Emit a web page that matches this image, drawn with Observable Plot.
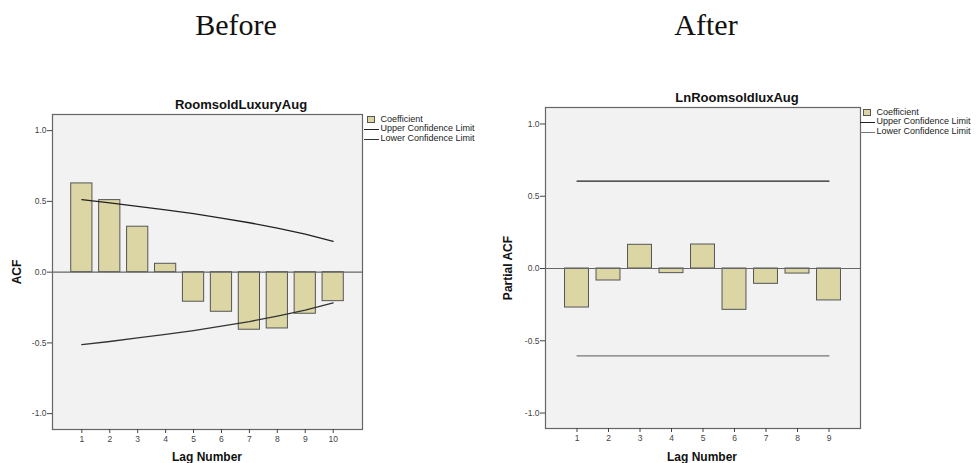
<!DOCTYPE html>
<html>
<head>
<meta charset="utf-8">
<script src="https://cdn.jsdelivr.net/npm/d3@7"></script>
<script src="https://cdn.jsdelivr.net/npm/@observablehq/plot@0.6"></script>
<style>
  html, body { margin: 0; padding: 0; background: #fff; }
  #page { position: relative; width: 978px; height: 463px; overflow: hidden; font-family: "Liberation Sans", Arial, sans-serif; color: #111; }
  .abs { position: absolute; white-space: nowrap; line-height: 1; }
  .head { font-family: "Liberation Serif", "Times New Roman", serif; font-size: 30px; transform: translateX(-50%); }
  .title { font-weight: bold; font-size: 13px; transform: translateX(-50%); }
  .xlab { font-weight: bold; font-size: 12px; transform: translateX(-50%); }
  .ylab { font-weight: bold; font-size: 12px; transform: translate(-50%, -50%) rotate(-90deg); }
  .leg { font-size: 9px; color: #222; }
  .sw { position: absolute; background: #dbd6a3; border: 1px solid #555; box-sizing: border-box; }
  .ln { position: absolute; height: 0; border-top: 1.3px solid #222; }
  .chart { position: absolute; }
</style>
</head>
<body>
<div id="page"></div>
<script>
// ---- Data ----
const beforeLags  = [1, 2, 3, 4, 5, 6, 7, 8, 9, 10];
const beforeACF   = [0.627, 0.509, 0.321, 0.059, -0.209, -0.280, -0.407, -0.398, -0.294, -0.205];
const beforeUpper = [0.512, 0.490, 0.465, 0.440, 0.413, 0.382, 0.349, 0.311, 0.269, 0.217];
const beforeLower = [-0.512, -0.490, -0.465, -0.440, -0.413, -0.382, -0.349, -0.311, -0.269, -0.217];

const afterLags  = [1, 2, 3, 4, 5, 6, 7, 8, 9];
const afterPACF  = [-0.270, -0.083, 0.164, -0.032, 0.166, -0.286, -0.106, -0.035, -0.221];
const afterUpper = [0.605, 0.605, 0.605, 0.605, 0.605, 0.605, 0.605, 0.605, 0.605];
const afterLower = [-0.604, -0.604, -0.604, -0.604, -0.604, -0.604, -0.604, -0.604, -0.604];

const yTicks = [-1.0, -0.5, 0.0, 0.5, 1.0];
const legendLabels = ["Coefficient", "Upper Confidence Limit", "Lower Confidence Limit"];

const page = document.getElementById("page");

function addText(cls, text, left, top) {
  const d = document.createElement("div");
  d.className = "abs " + cls;
  d.textContent = text;
  d.style.left = left + "px";
  d.style.top = top + "px";
  page.appendChild(d);
  return d;
}

function acfChart(lags, values, upper, lower, opts) {
  const bars = lags.map((lag, i) => ({lag, value: values[i]}));
  const up = lags.map((lag, i) => ({lag, v: upper[i]}));
  const lo = lags.map((lag, i) => ({lag, v: lower[i]}));
  const half = 0.38;
  return Plot.plot({
    width: opts.width,
    height: opts.height,
    marginLeft: opts.ml,
    marginRight: opts.mr,
    marginTop: opts.mt,
    marginBottom: opts.mb,
    style: {fontFamily: '"Liberation Sans", Arial, sans-serif', fontSize: "8.5px", color: "#444", background: "transparent"},
    x: {type: "linear", domain: opts.xDomain},
    y: {domain: opts.yDomain},
    marks: [
      Plot.frame({fill: "#f2f2f2", stroke: null}),
      Plot.rectY(bars, {x1: d => d.lag - half, x2: d => d.lag + half, y1: 0, y2: "value", fill: "#dbd6a3", stroke: "#555", strokeWidth: 1}),
      Plot.ruleY([0], {stroke: "#666", strokeWidth: 1.2}),
      Plot.line(up, {x: "lag", y: "v", stroke: "#222", strokeWidth: 1.3}),
      Plot.line(lo, {x: "lag", y: "v", stroke: opts.lowerColor, strokeWidth: 1.3}),
      Plot.frame({stroke: "#666", strokeWidth: 1.2}),
      Plot.axisY({ticks: yTicks, tickFormat: d => d.toFixed(1), tickSize: 5, tickPadding: 1, label: null, stroke: "#444"}),
      Plot.axisX({ticks: lags, tickFormat: d => String(d), tickSize: 4, tickPadding: 2, label: null, stroke: "#444"})
    ]
  });
}

function place(svg, left, top) {
  svg.classList.add("chart");
  svg.style.left = left + "px";
  svg.style.top = top + "px";
  page.appendChild(svg);
}

// Left chart (Before)
place(acfChart(beforeLags, beforeACF, beforeUpper, beforeLower, {
  width: 489, height: 373, ml: 52, mr: 127, mt: 24, mb: 34,
  xDomain: [-0.05, 11.05], yDomain: [-1.112, 1.114], lowerColor: "#333"
}), 0, 90);

// Right chart (After)
place(acfChart(afterLags, afterPACF, afterUpper, afterLower, {
  width: 489, height: 373, ml: 56, mr: 118, mt: 17, mb: 35,
  xDomain: [0, 10], yDomain: [-1.107, 1.114], lowerColor: "#777"
}), 489, 90);

// Headings
addText("head", "Before", 236, 10);
addText("head", "After", 706, 10);

// Chart titles
addText("title", "RoomsoldLuxuryAug", 241, 98);
addText("title", "LnRoomsoldluxAug", 737, 91);

// Axis labels
addText("xlab", "Lag Number", 207, 451);
addText("xlab", "Lag Number", 702, 451);
addText("ylab", "ACF", 17, 272);
addText("ylab", "Partial ACF", 508, 268);

// Legends
function legend(x, y, lowerColor) {
  const sw = document.createElement("div");
  sw.className = "sw";
  sw.style.left = (x + 3) + "px"; sw.style.top = (y - 3.5) + "px";
  sw.style.width = "8px"; sw.style.height = "7px";
  page.appendChild(sw);
  const colors = ["#222", lowerColor];
  [1, 2].forEach(k => {
    const l = document.createElement("div");
    l.className = "ln";
    l.style.left = x + "px"; l.style.top = (y + k * 9.7) + "px";
    l.style.width = "15px";
    l.style.borderTopColor = colors[k - 1];
    page.appendChild(l);
  });
  legendLabels.forEach((t, k) => addText("leg", t, x + 16.5, y + k * 9.7 - 5));
}
legend(364, 119.7, "#333");
legend(860, 112.7, "#777");
</script>
</body>
</html>
